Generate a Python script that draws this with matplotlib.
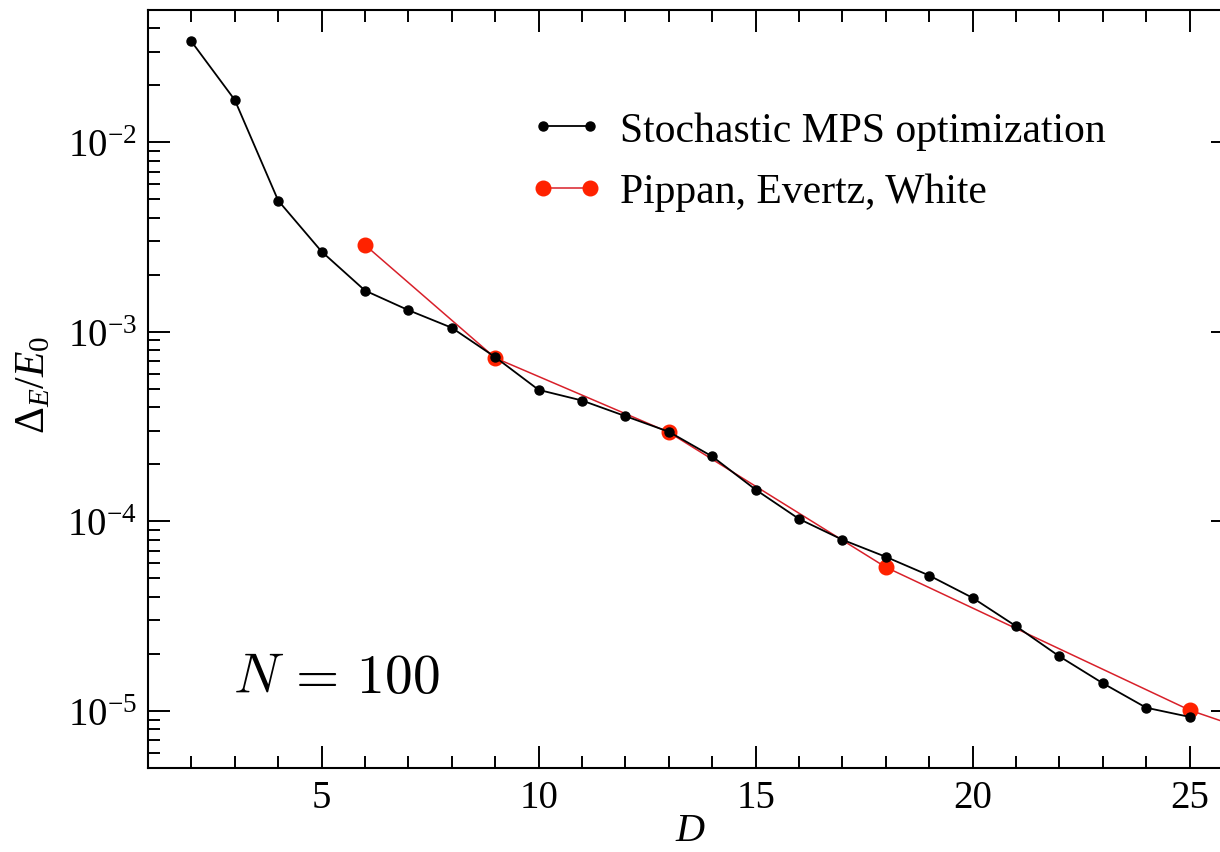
import matplotlib.pyplot as plt
from matplotlib.ticker import FixedLocator, LogLocator, NullFormatter

# data
D_stoch = [2, 3, 4, 5, 6, 7, 8, 9, 10, 11, 12, 13, 14, 15, 16, 17, 18, 19, 20, 21, 22, 23, 24, 25]
err_stoch = [3.4e-2, 1.67e-2, 4.92e-3, 2.65e-3, 1.65e-3, 1.30e-3, 1.05e-3, 7.35e-4, 4.94e-4,
             4.34e-4, 3.59e-4, 2.97e-4, 2.20e-4, 1.47e-4, 1.03e-4, 8.0e-5, 6.5e-5, 5.18e-5,
             3.95e-5, 2.80e-5, 1.94e-5, 1.40e-5, 1.04e-5, 9.3e-6]

D_pew = [6, 9, 13, 18, 25, 30]
err_pew = [2.87e-3, 7.28e-4, 2.95e-4, 5.73e-5, 1.01e-5, 4.1e-6]

labels = ["Stochastic MPS optimization", "Pippan, Evertz, White"]

plt.rcParams['font.family'] = ['Liberation Serif', 'DejaVu Serif']
plt.rcParams['mathtext.fontset'] = 'custom'
plt.rcParams['mathtext.rm'] = 'Liberation Serif'
plt.rcParams['mathtext.it'] = 'Liberation Serif:italic'

fig = plt.figure(figsize=(12.2, 8.53), dpi=100)
# axes run a bit past the right edge, as in the cropped original
ax = fig.add_axes([148 / 1220, 84 / 853, 1085 / 1220, 758.3 / 853])

ax.plot(D_stoch, err_stoch, '-', color='black', lw=1.3, marker='o', ms=6.5,
        mfc='black', mec='black', label=labels[0], zorder=3)
ax.plot(D_pew, err_pew, '-', color='#d8202a', lw=1.1, marker='o', ms=10.5,
        mfc='#ff2200', mec='#ff2200', label=labels[1], zorder=2)

ax.set_yscale('log')
ax.set_xlim(1, 26)
ax.set_ylim(5e-6, 5e-2)

ax.xaxis.set_major_locator(FixedLocator([5, 10, 15, 20, 25]))
ax.xaxis.set_minor_locator(FixedLocator(range(1, 27)))
yt = [1e-5, 1e-4, 1e-3, 1e-2]
ax.yaxis.set_major_locator(FixedLocator(yt))
ax.set_yticklabels([r'$\mathregular{10^{-%d}}$' % k for k in [5, 4, 3, 2]])
ax.yaxis.set_minor_locator(LogLocator(base=10, subs=range(2, 10)))
ax.yaxis.set_minor_formatter(NullFormatter())

ax.tick_params(which='both', direction='in', top=True, right=True, width=1.4,
               labelsize=28, pad=8)
ax.tick_params(which='major', length=16)
ax.tick_params(which='minor', length=8.5)
for s in ax.spines.values():
    s.set_linewidth(1.5)

ax.set_xlabel(r'$D$', fontsize=29)
ax.xaxis.set_label_coords(0.5, -0.058)
ax.set_ylabel(r'$\Delta_E/E_\mathit{0}$', fontsize=30)
ax.yaxis.set_label_coords(-0.087, 0.506)

ax.text(233, 853 - 693, r'$N\,=\,100$', transform=None, fontsize=40,
        math_fontfamily='cm', ha='left', va='baseline')

ax.legend(loc='upper left', bbox_to_anchor=(0.337, 0.888), frameon=False,
          fontsize=30, numpoints=2, handlelength=1.73, handletextpad=0.42,
          labelspacing=0.55, borderaxespad=0)

fig.savefig('out.png', dpi=100)
